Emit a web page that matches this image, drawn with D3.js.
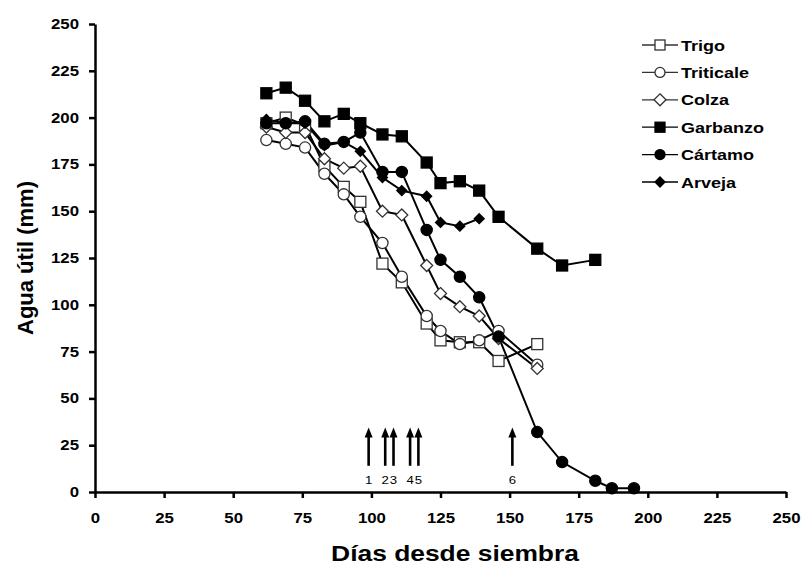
<!DOCTYPE html>
<html>
<head>
<meta charset="utf-8">
<script src="https://cdn.jsdelivr.net/npm/d3@7"></script>
<style>
  body { margin: 0; background: #fff; }
  text { font-family: 'Liberation Sans', Arial, sans-serif; }
  .axis path, .axis line { stroke: #000; stroke-width: 2.5; }
  .axis text { font-size: 14px; font-weight: bold; fill: #000; }
  .label { font-size: 22px; font-weight: bold; text-anchor: middle; }
  .legend text { font-size: 15px; font-weight: bold; }
</style>
</head>
<body>
<svg id="chart" width="803" height="565"></svg>
<script>
// sampling dates (days after sowing), shared by all crops
var days = [62, 69, 76, 83, 90, 96, 104, 111, 120, 125, 132, 139, 146, 160, 169, 181, 187, 195];

var trigo     = [197, 200, 196, 174, 163, 155, 122, 112, 90, 81, 80, 80, 70, 79];
var triticale = [188, 186, 184, 170, 159, 147, 133, 115, 94, 86, 79, 81, 86, 68];
var colza     = [195, 192, 192, 178, 173, 174, 150, 148, 121, 106, 99, 94, 82, 66];
var garbanzo  = [213, 216, 209, 198, 202, 197, 191, 190, 176, 165, 166, 161, 147, 130, 121, 124];
var cartamo   = [197, 197, 198, 186, 187, 192, 171, 171, 140, 124, 115, 104, 83, 32, 16, 6, 2, 2];
var arveja    = [199, 197, 197, 185, 187, 182, 168, 161, 158, 144, 142, 146];

var names = ['Trigo', 'Triticale', 'Colza', 'Garbanzo', 'Cártamo', 'Arveja'];

// arrows marking events
var arrowDays = [99, 105, 108, 114, 117, 151];
var arrowLabels = ['1', '2', '3', '4', '5', '6'];

var xTicks = [0, 25, 50, 75, 100, 125, 150, 175, 200, 225, 250];
var yTicks = [0, 25, 50, 75, 100, 125, 150, 175, 200, 225, 250];

var series = [
  { name: names[0], values: trigo, shape: 'square', fill: '#fff' },
  { name: names[1], values: triticale, shape: 'circle', fill: '#fff' },
  { name: names[2], values: colza, shape: 'diamond', fill: '#fff' },
  { name: names[3], values: garbanzo, shape: 'square', fill: '#000' },
  { name: names[4], values: cartamo, shape: 'circle', fill: '#000' },
  { name: names[5], values: arveja, shape: 'diamond', fill: '#000' }
];

// the picture is a bit stretched sideways, so are its letters
var stretch = 'scale(1.2,1)';

var margin = { top: 24, right: 17, bottom: 73, left: 95 };
var width = 803 - margin.left - margin.right;
var height = 565 - margin.top - margin.bottom;

var svg = d3.select('#chart')
  .append('g')
  .attr('transform', 'translate(' + margin.left + ',' + margin.top + ')');

var x = d3.scaleLinear().domain([0, 250]).range([0, width]);
var y = d3.scaleLinear().domain([0, 250]).range([height, 0]);

function drawMarker(g, shape, fill, small) {
  if (shape === 'square') {
    var s = small ? 10 : 11;
    g.append('rect')
      .attr('x', -s / 2).attr('y', -s / 2)
      .attr('width', s).attr('height', s);
  } else if (shape === 'circle') {
    g.append('circle').attr('r', small ? 5 : 5.6);
  } else {
    var r = fill === '#000' ? 5 : 6;
    g.append('path')
      .attr('d', 'M0,' + (-r) + 'L' + r + ',0L0,' + r + 'L' + (-r) + ',0Z');
  }
  g.selectAll('*')
    .attr('fill', fill)
    .attr('stroke', fill === '#000' ? '#000' : '#333')
    .attr('stroke-width', 1.3);
}

///////////////////////////////////////////////////////////////
// axes
///////////////////////////////////////////////////////////////

var xAxis = d3.axisBottom(x)
  .tickValues(xTicks)
  .tickSize(6)
  .tickPadding(15)
  .tickSizeOuter(0);

svg.append('g')
  .attr('class', 'axis')
  .attr('transform', 'translate(0,' + height + ')')
  .call(xAxis)
  .selectAll('text')
  .attr('transform', stretch);

var yAxis = d3.axisLeft(y)
  .tickValues(yTicks)
  .tickSize(6)
  .tickSizeOuter(0);

svg.append('g')
  .attr('class', 'axis')
  .call(yAxis)
  .selectAll('text')
  .attr('x', -16 / 1.2)
  .attr('transform', stretch);

svg.append('text')
  .attr('class', 'label')
  .attr('transform', 'translate(' + (455 - margin.left) + ',' + (height + 69) + ')' + stretch)
  .text('Días desde siembra');

svg.append('text')
  .attr('class', 'label')
  .attr('transform', 'rotate(-90)')
  .attr('x', -(258 - margin.top))
  .attr('y', -margin.left + 33)
  .text('Agua útil  (mm)');

///////////////////////////////////////////////////////////////
// lines and markers
///////////////////////////////////////////////////////////////

var line = d3.line()
  .x((d, i) => x(days[i]))
  .y(d => y(d));

series.forEach(function (s) {
  svg.append('path')
    .datum(s.values)
    .attr('fill', 'none')
    .attr('stroke', '#000')
    .attr('stroke-width', 2)
    .attr('d', line);
});

series.forEach(function (s) {
  svg.append('g')
    .selectAll('g')
    .data(s.values)
    .enter()
    .append('g')
    .attr('transform', (d, i) => 'translate(' + x(days[i]) + ',' + y(d) + ')')
    .each(function () { drawMarker(d3.select(this), s.shape, s.fill, false); });
});

///////////////////////////////////////////////////////////////
// arrows
///////////////////////////////////////////////////////////////

var arrows = svg.selectAll('.arrow')
  .data(arrowDays)
  .enter()
  .append('g')
  .attr('class', 'arrow')
  .attr('transform', d => 'translate(' + x(d) + ',0)');

arrows.append('line')
  .attr('y1', y(14))
  .attr('y2', y(30))
  .attr('stroke', '#000')
  .attr('stroke-width', 2.6);

arrows.append('path')
  .attr('d', 'M0,' + y(34.5) + 'L4,' + (y(34.5) + 10) + 'L-4,' + (y(34.5) + 10) + 'Z')
  .attr('fill', '#000');

arrows.append('text')
  .attr('transform', 'translate(0,' + (y(6.5) + 4) + ')' + stretch)
  .attr('text-anchor', 'middle')
  .style('font-size', '11px')
  .text((d, i) => arrowLabels[i]);

///////////////////////////////////////////////////////////////
// legend
///////////////////////////////////////////////////////////////

var legend = d3.select('#chart')
  .append('g')
  .attr('class', 'legend');

var rows = legend.selectAll('.row')
  .data(series)
  .enter()
  .append('g')
  .attr('transform', (d, i) => 'translate(660,' + (45 + i * 27.4) + ')');

rows.append('line')
  .attr('x1', -18)
  .attr('x2', 18)
  .attr('stroke', '#000')
  .attr('stroke-width', 2);

rows.each(function (d) { drawMarker(d3.select(this), d.shape, d.fill, true); });

rows.append('text')
  .attr('transform', 'translate(21,5.5)' + stretch)
  .text(d => d.name);
</script>
</body>
</html>
